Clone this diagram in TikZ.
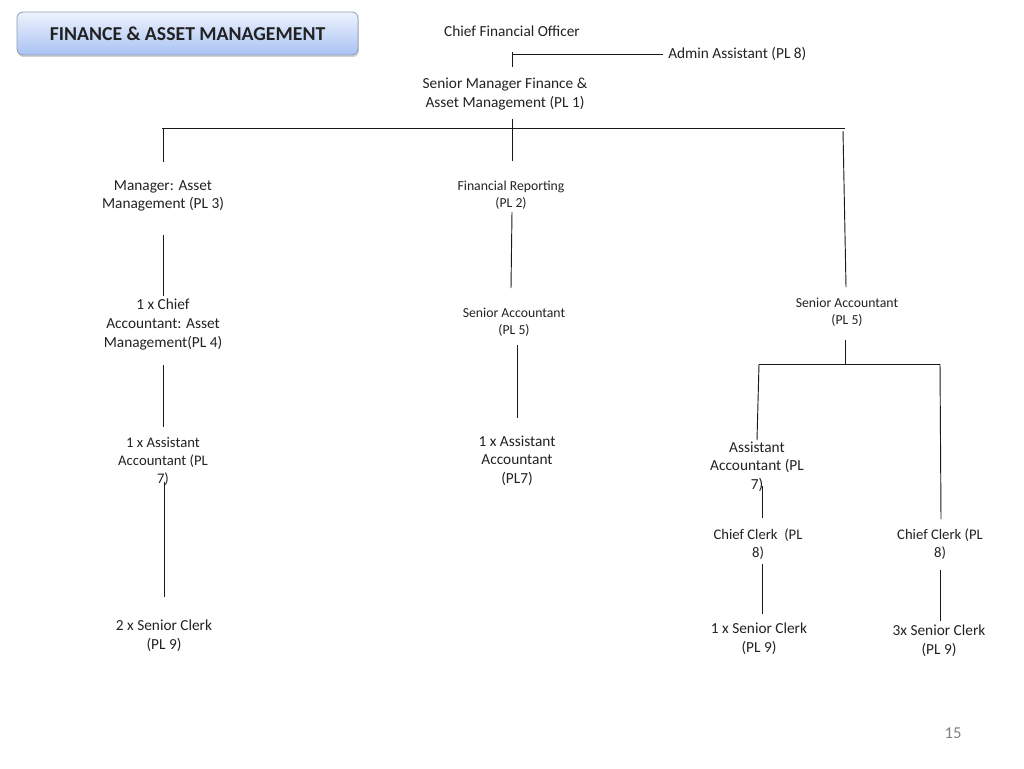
\documentclass[tikz,border=0pt]{standalone}
\usepackage{fontspec}
\setmainfont{Carlito}
\usetikzlibrary{shadows}
\definecolor{tboxtop}{HTML}{EEF3FD}
\definecolor{tboxbot}{HTML}{A8C2F3}
\definecolor{tboxline}{HTML}{8F9CB3}
\definecolor{ink}{HTML}{222222}
\begin{document}
\begin{tikzpicture}[x=0.75pt,y=-0.75pt,
 big/.style={align=center,inner sep=0pt,font=\fontsize{11.5}{14}\selectfont,text=ink},
 mid/.style={align=center,inner sep=0pt,font=\fontsize{11}{13.5}\selectfont,text=ink},
 small/.style={align=center,inner sep=0pt,font=\fontsize{10.3}{12.75}\selectfont,text=ink},
 titlebox/.style={rounded corners=4.5pt,draw=tboxline,line width=0.6pt,top color=tboxtop,bottom color=tboxbot,
   minimum width=255.75pt,minimum height=32.25pt,inner sep=0pt,
   font=\fontsize{14.8}{17}\selectfont\bfseries,text=ink,
   drop shadow={shadow xshift=0.6pt,shadow yshift=-1.6pt,opacity=0.35}},
 conn/.style={draw=black!90,line width=0.7pt}]
\useasboundingbox (0,0) rectangle (1024,768);

\node[titlebox] (title) at (187.5,33.5) {FINANCE \& ASSET MANAGEMENT};

\node[big] (cfo) at (512,31) {Chief Financial Officer};
\node[big,anchor=west] (admin) at (668,54) {Admin Assistant (PL 8)};
\node[big] (sm) at (505,94) {Senior Manager Finance \&\\Asset Management (PL 1)};
\node[big] (mgr) at (163,196) {Manager: Asset\\Management (PL 3)};
\node[big] (chief) at (163,324.5) {1 x Chief\\Accountant: Asset\\Management(PL 4)};
\node[mid] (aa1) at (163,461) {1 x Assistant\\Accountant (PL\\7)};
\node[big] (sc1) at (164,635.5) {2 x Senior Clerk\\(PL 9)};
\node[small] (fr) at (511,195.5) {Financial Reporting\\(PL 2)};
\node[small] (sa1) at (514,322.5) {Senior Accountant\\(PL 5)};
\node[big] (aa2) at (517,460.5) {1 x Assistant\\Accountant\\(PL7)};
\node[small] (sa2) at (847,312.5) {Senior Accountant\\(PL 5)};
\node[big] (aa3) at (757,466.5) {Assistant\\Accountant (PL\\7)};
\node[mid] (cc1) at (758,544) {Chief Clerk~~(PL\\8)};
\node[mid] (cc2) at (940,544) {Chief Clerk (PL\\8)};
\node[big] (sc2) at (759,638.5) {1 x Senior Clerk\\(PL 9)};
\node[big] (sc3) at (939,641) {3x Senior Clerk\\(PL 9)};
\node[inner sep=0pt,font=\fontsize{12.5}{15}\selectfont,text=black!50] (pg) at (953,733) {15};

% connector end points
\coordinate (cfoA) at (512,52);
\coordinate (cfoB) at (512,67);
\coordinate (cfoH) at (512,54);
\coordinate (admL) at (663,54);
\coordinate (smB) at (512,119);
\coordinate (smC) at (512,161);
\coordinate (barL) at (162,128);
\coordinate (barR) at (845,128);
\coordinate (mgrT) at (163,128);
\coordinate (mgrU) at (163,162);
\coordinate (sa2T) at (843,131);
\coordinate (sa2U) at (846,287);
\coordinate (mgrB) at (163,235);
\coordinate (chiefT) at (163,296);
\coordinate (chiefB) at (163,365);
\coordinate (aa1T) at (163,427);
\coordinate (aa1B) at (164,482);
\coordinate (sc1T) at (164,597);
\coordinate (frB) at (512,212);
\coordinate (sa1T) at (511,288);
\coordinate (sa1B) at (517,345);
\coordinate (aa2T) at (517,418);
\coordinate (sa2B) at (845,340);
\coordinate (sa2C) at (845,364);
\coordinate (bar2L) at (759,364);
\coordinate (bar2R) at (940,364);
\coordinate (aa3T) at (757,440);
\coordinate (cc2T) at (941,519);
\coordinate (aa3B) at (762,486);
\coordinate (cc1T) at (762,518);
\coordinate (cc1B) at (762,564);
\coordinate (sc2T) at (762,614);
\coordinate (cc2B) at (940,570);
\coordinate (sc3T) at (940,621);

\draw[conn] (cfoA) -- (cfoB);
\draw[conn] (cfoH) -- (admL);
\draw[conn] (smB) -- (smC);
\draw[conn] (barL) -- (barR);
\draw[conn] (mgrT) -- (mgrU);
\draw[conn] (sa2T) -- (sa2U);
\draw[conn] (mgrB) -- (chiefT);
\draw[conn] (chiefB) -- (aa1T);
\draw[conn] (aa1B) -- (sc1T);
\draw[conn] (frB) -- (sa1T);
\draw[conn] (sa1B) -- (aa2T);
\draw[conn] (sa2B) -- (sa2C);
\draw[conn] (bar2L) -- (bar2R);
\draw[conn] (bar2L) -- (aa3T);
\draw[conn] (bar2R) -- (cc2T);
\draw[conn] (aa3B) -- (cc1T);
\draw[conn] (cc1B) -- (sc2T);
\draw[conn] (cc2B) -- (sc3T);
\end{tikzpicture}
\end{document}
